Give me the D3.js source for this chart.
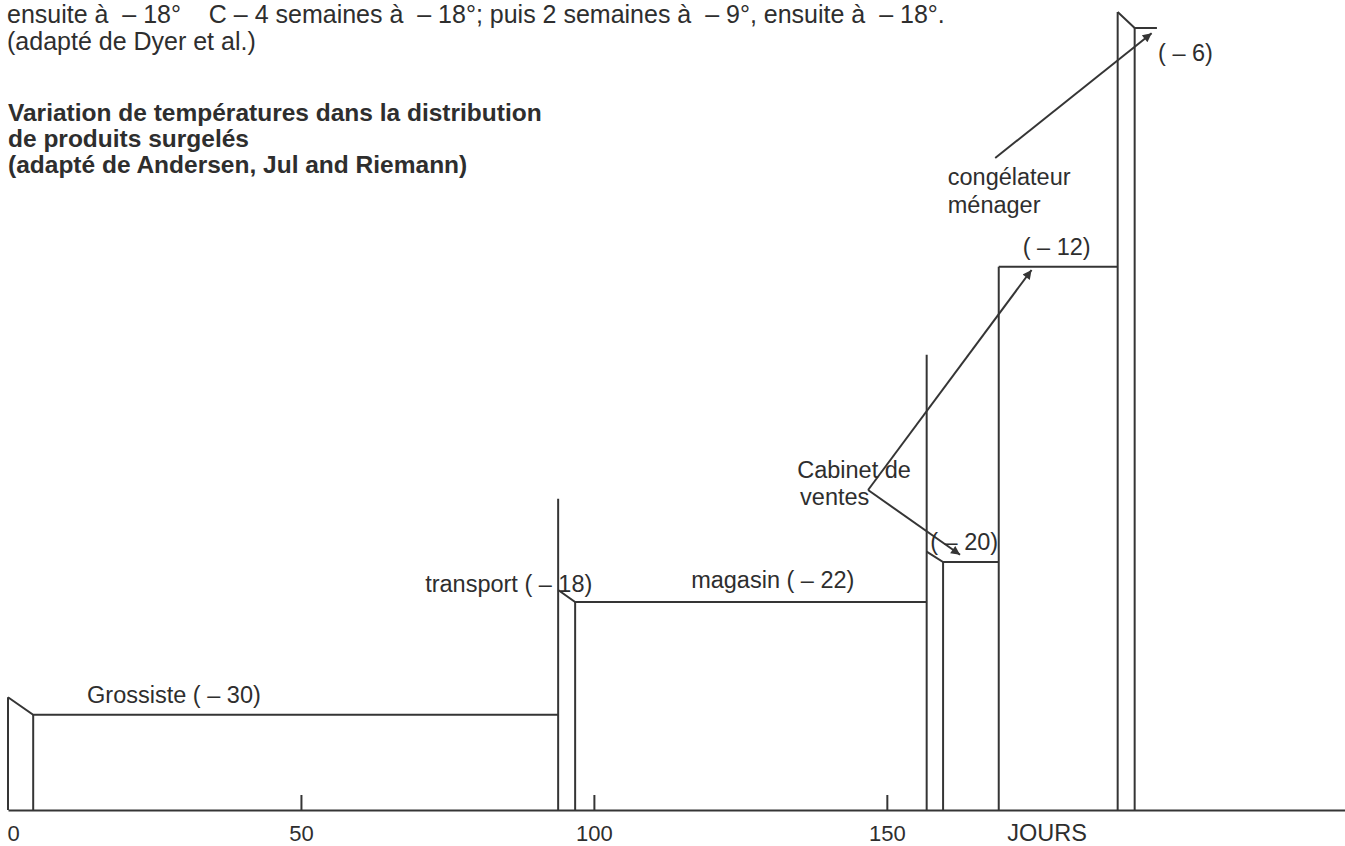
<!DOCTYPE html>
<html>
<head>
<meta charset="utf-8">
<script src="https://cdn.jsdelivr.net/npm/d3@7/dist/d3.min.js"></script>
<style>
  html, body { margin: 0; padding: 0; background: #ffffff; }
  svg { display: block; }
  text { font-family: "Liberation Sans", Arial, Helvetica, sans-serif; fill: #2e2e2e; white-space: pre; }
</style>
</head>
<body>
<svg id="chart" width="1345" height="846"></svg>
<script>
// ---------- DATA ----------
// Header texts
const headerLines = [
  "ensuite à  – 18°    C – 4 semaines à  – 18°; puis 2 semaines à  – 9°, ensuite à  – 18°.",
  "(adapté de Dyer et al.)"
];
const titleLines = [
  "Variation de températures dans la distribution",
  "de produits surgelés",
  "(adapté de Andersen, Jul and Riemann)"
];
// Stages of the distribution chain (x in days, y in relative level units 0–100)
const stageNames   = ["Grossiste", "transport / magasin", "Cabinet de ventes", "ménager", "congélateur ménager"];
const stageTemps   = [-30, -22, -20, -12, -6];
const stageDayStart = [0, 93.9, 156.8, 169.1, 189.4];   // entry line
const stageDayFlat  = [4.3, 96.8, 159.6, 169.1, 192.3]; // end of slanted cap
const stageDayEnd   = [93.9, 156.8, 169.1, 189.4, 196.1];
const stageCapTop   = [14.1, 27.5, 32.3, 67.9, 99.75];
const stageLevel    = [11.9, 26.0, 31.0, 67.9, 97.75];
const dividerTop    = [14.1, 38.9, 56.9, 67.9, 99.75];
// X axis
const tickValues = [0, 50, 100, 150];
const tickLabels = ["0", "50", "100", "150"];
const axisTitle = "JOURS";
// Annotation labels: text, anchor day, anchor level
const labelTexts  = ["Grossiste ( – 30)", "transport ( – 18)", "magasin ( – 22)", "( – 20)", "( – 12)", "( – 6)",
                     "Cabinet de", "ventes", "congélateur", "ménager"];
const labelDays   = [13.5, 71.2, 116.6, 157.4, 173.2, 196.3, 134.7, 135.2, 160.4, 160.4];
const labelLevels = [13.4, 27.25, 27.75, 32.5, 69.4, 93.6, 41.5, 38.1, 78.1, 74.6];
// Arrows: start (day, level) -> tip (day, level)
const arrowFromDay   = [146.8, 146.8, 168.5];
const arrowFromLevel = [40.0, 40.0, 81.5];
const arrowToDay     = [174.7, 162.5, 195.2];
const arrowToLevel   = [67.5, 31.9, 97.1];

// ---------- DRAWING ----------
const W = 1345, H = 846;
const svg = d3.select("#chart");
const ink = "#353535";

const x = d3.scaleLinear().domain([0, 228.2]).range([8, 1345]);
const y = d3.scaleLinear().domain([0, 100]).range([810, 10]);

svg.append("rect").attr("width", W).attr("height", H).attr("fill", "#ffffff");

svg.append("defs").append("marker")
  .attr("id", "arrow")
  .attr("viewBox", "0 0 10 10")
  .attr("refX", 10).attr("refY", 5)
  .attr("markerUnits", "userSpaceOnUse")
  .attr("markerWidth", 16).attr("markerHeight", 9)
  .attr("orient", "auto")
  .append("path").attr("d", "M0,0 L10,5 L0,10 Z").attr("fill", ink);

// header
svg.append("g").selectAll("text").data(headerLines).join("text")
  .attr("x", 7).attr("y", (d, i) => 23 + i * 27)
  .attr("font-size", 25)
  .text(d => d);

svg.append("g").selectAll("text").data(titleLines).join("text")
  .attr("x", 8).attr("y", (d, i) => 121 + i * 26)
  .attr("font-size", 24.5).attr("font-weight", "bold")
  .text(d => d);

// axis
const axis = d3.axisBottom(x)
  .tickValues(tickValues)
  .tickFormat((d, i) => tickLabels[i])
  .tickSizeInner(-15).tickSizeOuter(0).tickPadding(15);
const gAxis = svg.append("g").attr("transform", `translate(0,${y(0)})`).call(axis);
gAxis.select(".domain").attr("stroke", ink).attr("stroke-width", 2);
gAxis.selectAll(".tick line").attr("stroke", ink).attr("stroke-width", 2)
  .attr("display", d => d === 0 ? "none" : null);
gAxis.selectAll(".tick text")
  .attr("fill", "#2e2e2e").attr("font-size", 22)
  .attr("font-family", "Liberation Sans, Arial, sans-serif")
  .attr("dx", d => d === 0 ? 5 : 0);
svg.append("text").attr("x", 1047).attr("y", y(0) + 31)
  .attr("text-anchor", "middle").attr("font-size", 23.5).text(axisTitle);

// stages
const gStages = svg.append("g").attr("fill", "none").attr("stroke", ink).attr("stroke-width", 2)
  .attr("stroke-linejoin", "miter");
const line = d3.line().x(d => x(d[0])).y(d => y(d[1]));
stageNames.forEach((name, i) => {
  // entry (divider) line
  gStages.append("path").attr("d", line([[stageDayStart[i], 0], [stageDayStart[i], dividerTop[i]]]));
  // cap slant + flat
  gStages.append("path").attr("d", line([
    [stageDayStart[i], stageCapTop[i]],
    [stageDayFlat[i], stageLevel[i]],
    [stageDayEnd[i], stageLevel[i]]
  ]));
  // inner vertical under the flat
  if (stageDayFlat[i] !== stageDayStart[i]) {
    gStages.append("path").attr("d", line([[stageDayFlat[i], 0], [stageDayFlat[i], stageLevel[i]]]));
  }
});

// arrows
const gArrows = svg.append("g").attr("stroke", ink).attr("stroke-width", 2);
arrowFromDay.forEach((d, i) => {
  gArrows.append("line")
    .attr("x1", x(arrowFromDay[i])).attr("y1", y(arrowFromLevel[i]))
    .attr("x2", x(arrowToDay[i])).attr("y2", y(arrowToLevel[i]))
    .attr("marker-end", "url(#arrow)");
});

// labels
svg.append("g").selectAll("text").data(labelTexts).join("text")
  .attr("x", (d, i) => x(labelDays[i]))
  .attr("y", (d, i) => y(labelLevels[i]))
  .attr("font-size", 23.5)
  .text(d => d);
</script>
</body>
</html>
